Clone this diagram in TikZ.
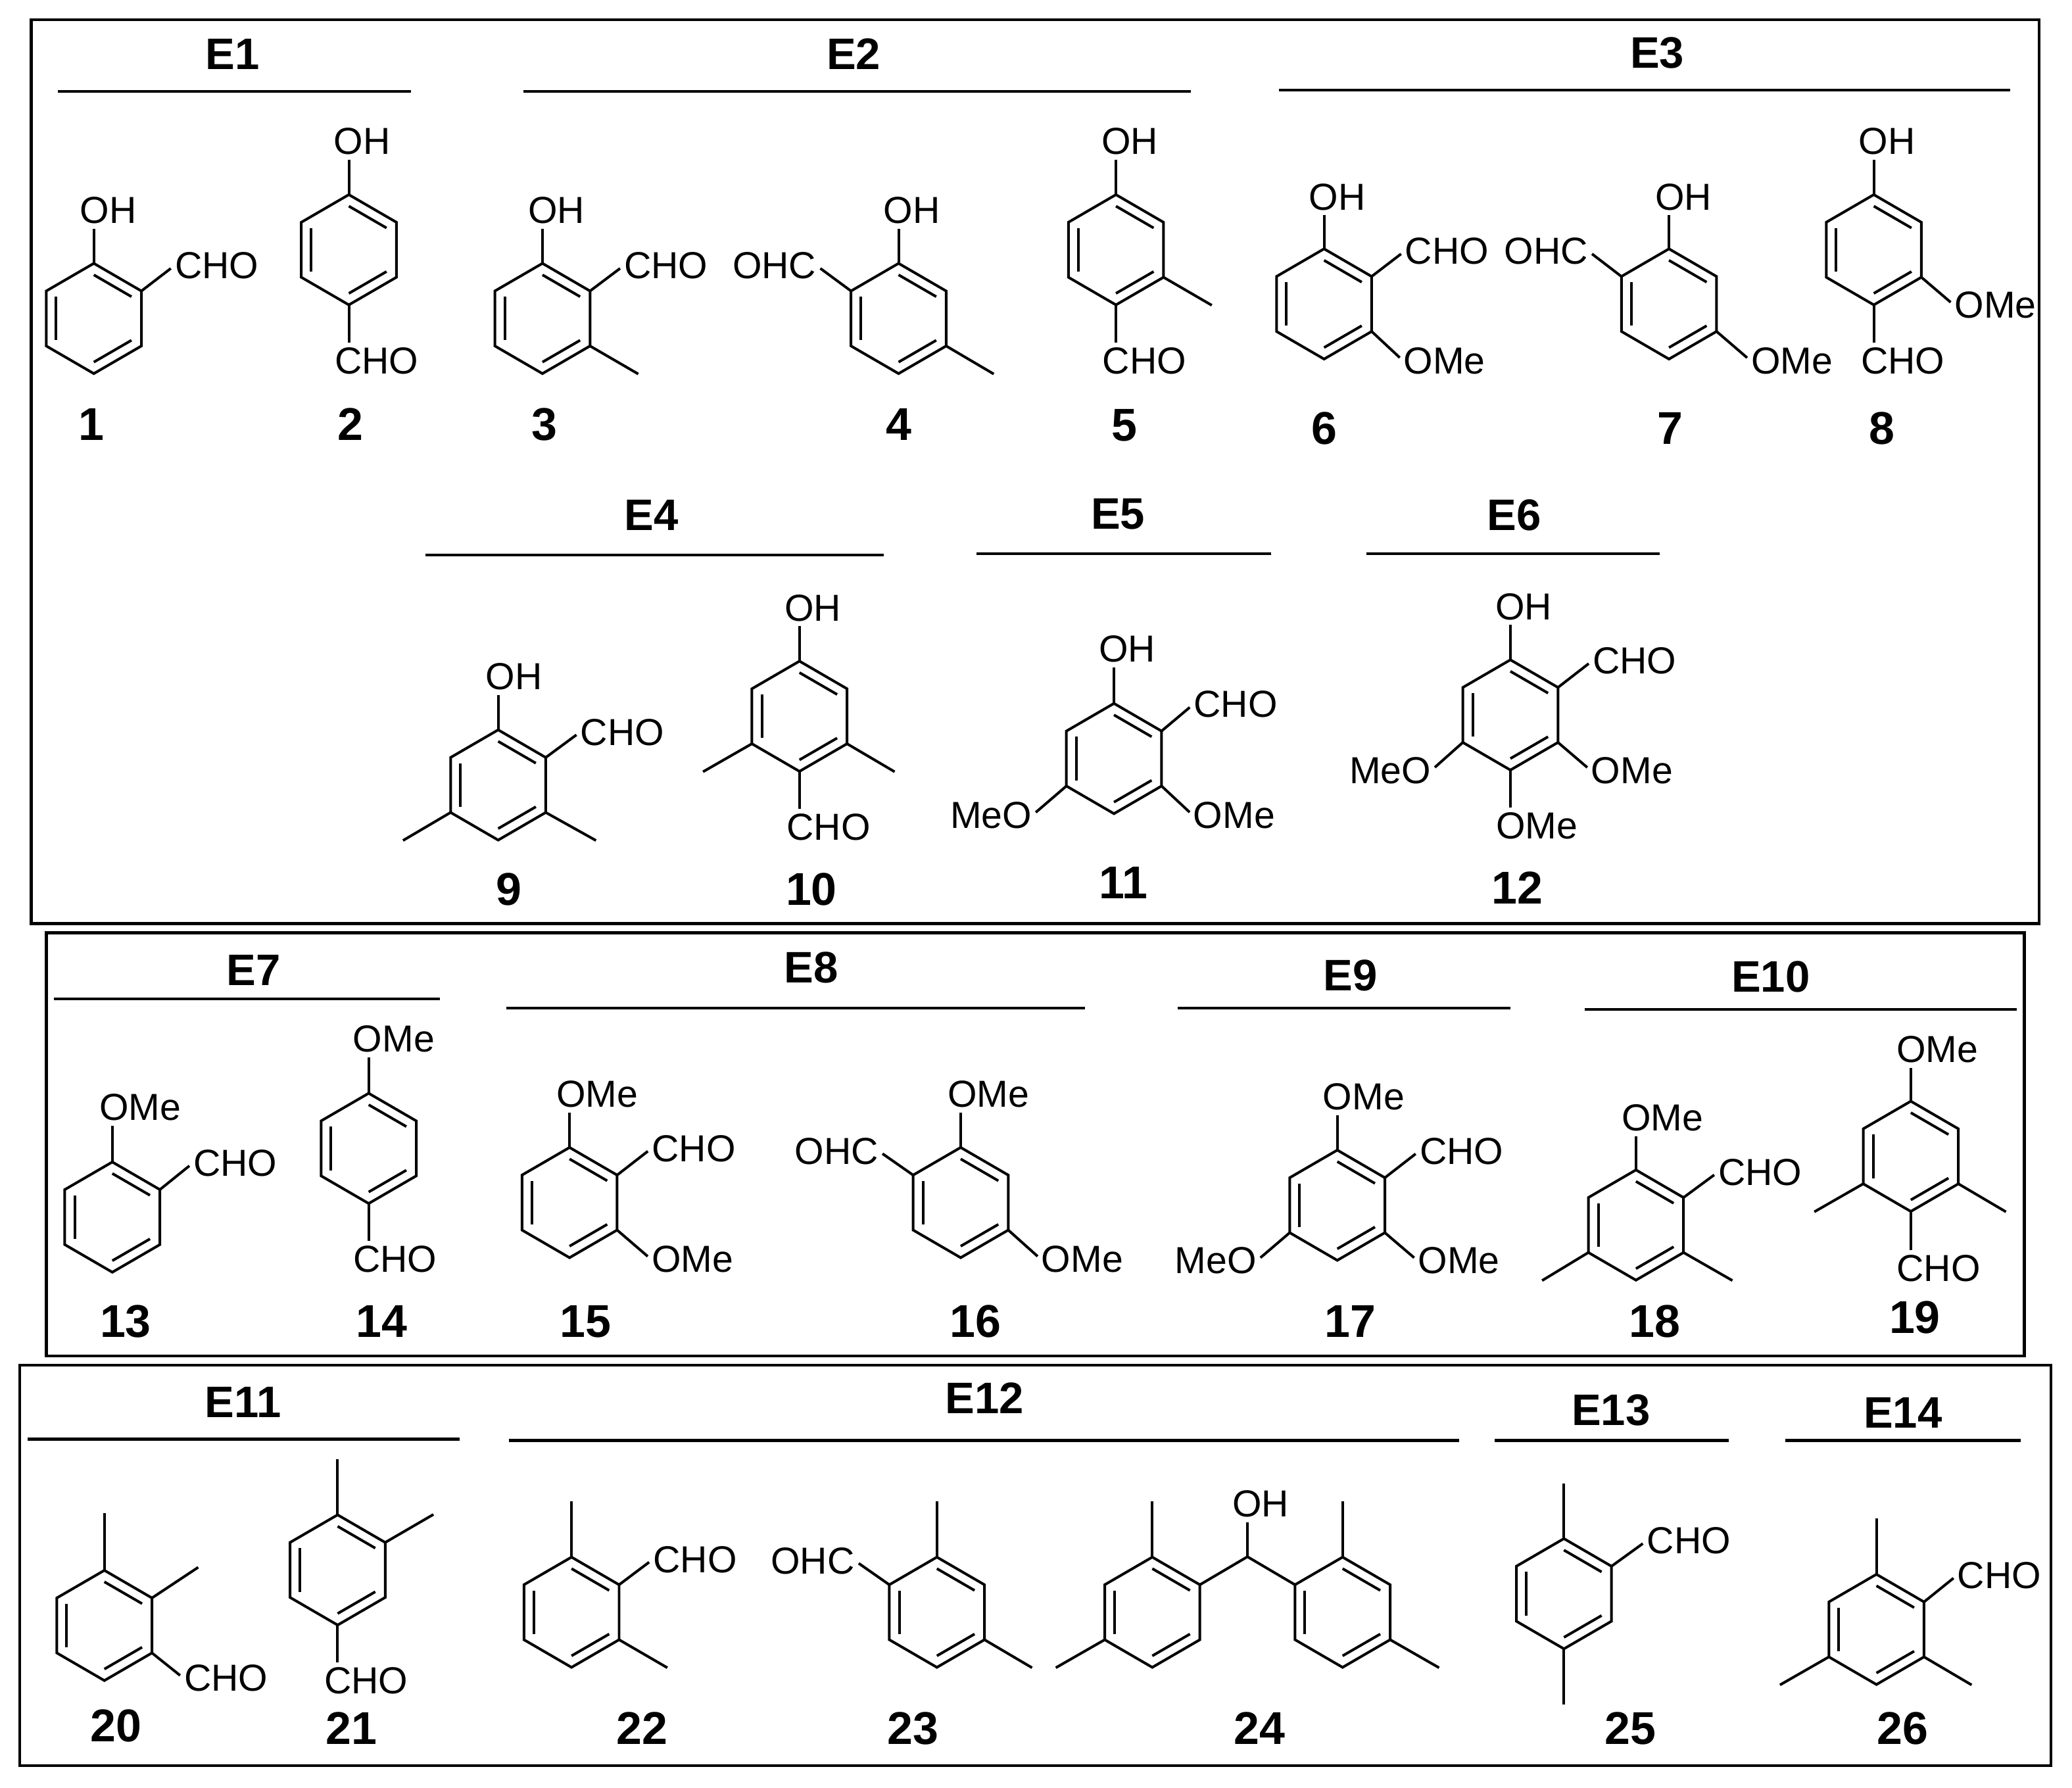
\documentclass[tikz,border=0pt]{standalone}
\usepackage{fontspec}
\setmainfont{Liberation Sans}
\tikzset{
  frame/.style={line width=1.3pt},
  rule/.style={line width=1.2pt},
  bond/.style={line width=1.13pt},
  tolbl/.style={bond,shorten >=0.07cm},
  head/.style={inner sep=0pt,font=\fontsize{19}{22}\selectfont\bfseries},
  num/.style={inner sep=0pt,font=\fontsize{19.8}{23}\selectfont\bfseries},
  lbl/.style={inner sep=0pt,font=\fontsize{16.2}{19}\selectfont},
}
% benzene ring: name, centre x, centre y
\newcommand{\ring}[3]{
  \begin{scope}[shift={(#2,#3)}]
  \coordinate(#1a) at (0,-41.7);
  \coordinate(#1b) at (36,-20.8);
  \coordinate(#1c) at (36,20.8);
  \coordinate(#1d) at (0,41.7);
  \coordinate(#1e) at (-36,20.8);
  \coordinate(#1f) at (-36,-20.8);
  \draw[bond] (#1a) -- (#1b) -- (#1c) -- (#1d) -- (#1e) -- (#1f) -- cycle;
  \draw[bond] (0,-33) -- (28.5,-16.5);
  \draw[bond] (28.5,16.5) -- (0,33);
  \draw[bond] (-28.5,16.5) -- (-28.5,-16.5);
  \end{scope}
}
\begin{document}
\begin{tikzpicture}[x=0.02cm,y=-0.02cm]
\useasboundingbox (0,0) rectangle (1568,1353);
% boxes
\draw[frame] (23.6,15) rectangle (1543,699);
\draw[frame] (35,706) rectangle (1532,1026);
\draw[frame] (15,1033) rectangle (1552,1336);
% groups
\node[head](e1) at (176,41) {E1};
\draw[rule] (44,69) -- (311,69);
\node[head](e2) at (646,41) {E2};
\draw[rule] (396,69) -- (901,69);
\node[head](e3) at (1254,40) {E3};
\draw[rule] (968,68) -- (1521,68);
\node[head](e4) at (493,390) {E4};
\draw[rule] (322,420) -- (669,420);
\node[head](e5) at (846,389) {E5};
\draw[rule] (739,419) -- (962,419);
\node[head](e6) at (1146,390) {E6};
\draw[rule] (1034,419) -- (1256,419);
\node[head](e7) at (192,734) {E7};
\draw[rule] (41,756) -- (333,756);
\node[head](e8) at (614,732) {E8};
\draw[rule] (383,763) -- (821,763);
\node[head](e9) at (1022,738) {E9};
\draw[rule] (891,763) -- (1143,763);
\node[head](e10) at (1340,739) {E10};
\draw[rule] (1199,764) -- (1526,764);
\node[head](e11) at (184,1061) {E11};
\draw[rule] (21,1089) -- (348,1089);
\node[head](e12) at (745,1058) {E12};
\draw[rule] (385,1090) -- (1104,1090);
\node[head](e13) at (1219,1067) {E13};
\draw[rule] (1131,1090) -- (1308,1090);
\node[head](e14) at (1440,1069) {E14};
\draw[rule] (1351,1090) -- (1529,1090);
%
\ring{r1}{71}{241}
\node[lbl](oh1) at (82,159) {OH};
\draw[tolbl] (r1a) -- (r1a |- oh1.south);
\node[lbl](cho1) at (164,201) {CHO};
\draw[tolbl] (r1b) -- (cho1.west);
\node[num](n1) at (69,321) {1};
%
\ring{r2}{264}{189}
\node[lbl](oh2) at (274,107) {OH};
\draw[tolbl] (r2a) -- (r2a |- oh2.south);
\node[lbl](cho2) at (285,273) {CHO};
\draw[tolbl] (r2d) -- (r2d |- cho2.north);
\node[num](n2) at (265,321) {2};
%
\ring{r3}{410.5}{241}
\node[lbl](oh3) at (421,159) {OH};
\draw[tolbl] (r3a) -- (r3a |- oh3.south);
\node[lbl](cho3) at (504,201) {CHO};
\draw[tolbl] (r3b) -- (cho3.west);
\coordinate(me3) at (483,283);
\draw[bond] (r3c) -- (me3);
\node[num](n3) at (412,321) {3};
%
\ring{r4}{680}{241}
\node[lbl](oh4) at (690,159) {OH};
\draw[tolbl] (r4a) -- (r4a |- oh4.south);
\node[lbl](ohc4) at (586,201) {OHC};
\draw[tolbl] (r4f) -- (ohc4.east);
\coordinate(me4) at (752,283);
\draw[bond] (r4c) -- (me4);
\node[num](n4) at (680,321) {4};
%
\ring{r5}{844.5}{189}
\node[lbl](oh5) at (855,107) {OH};
\draw[tolbl] (r5a) -- (r5a |- oh5.south);
\node[lbl](cho5) at (866,273) {CHO};
\draw[tolbl] (r5d) -- (r5d |- cho5.north);
\coordinate(me5) at (917,231);
\draw[bond] (r5c) -- (me5);
\node[num](n5) at (851,322) {5};
%
\ring{r6}{1002}{230}
\node[lbl](oh6) at (1012,149) {OH};
\draw[tolbl] (r6a) -- (r6a |- oh6.south);
\node[lbl](cho6) at (1095,190) {CHO};
\draw[tolbl] (r6b) -- (cho6.west);
\node[lbl](ome6) at (1093,273) {OMe};
\draw[tolbl] (r6c) -- (ome6.west);
\node[num](n6) at (1002,324) {6};
%
\ring{r7}{1263}{230}
\node[lbl](oh7) at (1274,149) {OH};
\draw[tolbl] (r7a) -- (r7a |- oh7.south);
\node[lbl](ohc7) at (1170,190) {OHC};
\draw[tolbl] (r7f) -- (ohc7.east);
\node[lbl](ome7) at (1356,273) {OMe};
\draw[tolbl] (r7c) -- (ome7.west);
\node[num](n7) at (1264,324) {7};
%
\ring{r8}{1418}{189}
\node[lbl](oh8) at (1428,107) {OH};
\draw[tolbl] (r8a) -- (r8a |- oh8.south);
\node[lbl](cho8) at (1440,273) {CHO};
\draw[tolbl] (r8d) -- (r8d |- cho8.north);
\node[lbl](ome8) at (1510,231) {OMe};
\draw[tolbl] (r8c) -- (ome8.west);
\node[num](n8) at (1424,324) {8};
%
\ring{r9}{377}{594}
\node[lbl](oh9) at (389,512) {OH};
\draw[tolbl] (r9a) -- (r9a |- oh9.south);
\node[lbl](cho9) at (471,554) {CHO};
\draw[tolbl] (r9b) -- (cho9.west);
\coordinate(mea9) at (451,636);
\coordinate(meb9) at (305,636);
\draw[bond] (r9c) -- (mea9);
\draw[bond] (r9e) -- (meb9);
\node[num](n9) at (385,673) {9};
%
\ring{r10}{605}{542}
\node[lbl](oh10) at (615,460) {OH};
\draw[tolbl] (r10a) -- (r10a |- oh10.south);
\node[lbl](cho10) at (627,626) {CHO};
\draw[tolbl] (r10d) -- (r10d |- cho10.north);
\coordinate(mea10) at (677,584);
\coordinate(meb10) at (532,584);
\draw[bond] (r10c) -- (mea10);
\draw[bond] (r10e) -- (meb10);
\node[num](n10) at (614,673) {10};
%
\ring{r11}{843}{574}
\node[lbl](oh11) at (853,491) {OH};
\draw[tolbl] (r11a) -- (r11a |- oh11.south);
\node[lbl](cho11) at (935,533) {CHO};
\draw[tolbl] (r11b) -- (cho11.west);
\node[lbl](ome11) at (934,617) {OMe};
\draw[tolbl] (r11c) -- (ome11.west);
\node[lbl](meo11) at (750,617) {MeO};
\draw[tolbl] (r11e) -- (meo11.east);
\node[num](n11) at (850,668) {11};
%
\ring{r12}{1143}{541}
\node[lbl](oh12) at (1153,459) {OH};
\draw[tolbl] (r12a) -- (r12a |- oh12.south);
\node[lbl](cho12) at (1237,500) {CHO};
\draw[tolbl] (r12b) -- (cho12.west);
\node[lbl](ome12) at (1235,583) {OMe};
\draw[tolbl] (r12c) -- (ome12.west);
\node[lbl](meo12) at (1052,583) {MeO};
\draw[tolbl] (r12e) -- (meo12.east);
\node[lbl](omeb12) at (1163,625) {OMe};
\draw[tolbl] (r12d) -- (r12d |- omeb12.north);
\node[num](n12) at (1148,672) {12};
%
\ring{r13}{85}{921}
\node[lbl](ome13) at (106,838) {OMe};
\draw[tolbl] (r13a) -- (r13a |- ome13.south);
\node[lbl](cho13) at (178,880) {CHO};
\draw[tolbl] (r13b) -- (cho13.west);
\node[num](n13) at (95,1000) {13};
%
\ring{r14}{279}{869}
\node[lbl](ome14) at (298,786) {OMe};
\draw[tolbl] (r14a) -- (r14a |- ome14.south);
\node[lbl](cho14) at (299,953) {CHO};
\draw[tolbl] (r14d) -- (r14d |- cho14.north);
\node[num](n14) at (289,1000) {14};
%
\ring{r15}{431}{910}
\node[lbl](ome15) at (452,828) {OMe};
\draw[tolbl] (r15a) -- (r15a |- ome15.south);
\node[lbl](cho15) at (525,869) {CHO};
\draw[tolbl] (r15b) -- (cho15.west);
\node[lbl](omeb15) at (524,953) {OMe};
\draw[tolbl] (r15c) -- (omeb15.west);
\node[num](n15) at (443,1000) {15};
%
\ring{r16}{727}{910}
\node[lbl](ome16) at (748,828) {OMe};
\draw[tolbl] (r16a) -- (r16a |- ome16.south);
\node[lbl](ohc16) at (633,871) {OHC};
\draw[tolbl] (r16f) -- (ohc16.east);
\node[lbl](omeb16) at (819,953) {OMe};
\draw[tolbl] (r16c) -- (omeb16.west);
\node[num](n16) at (738,1000) {16};
%
\ring{r17}{1012}{912}
\node[lbl](ome17) at (1032,830) {OMe};
\draw[tolbl] (r17a) -- (r17a |- ome17.south);
\node[lbl](cho17) at (1106,871) {CHO};
\draw[tolbl] (r17b) -- (cho17.west);
\node[lbl](omeb17) at (1104,954) {OMe};
\draw[tolbl] (r17c) -- (omeb17.west);
\node[lbl](meo17) at (920,954) {MeO};
\draw[tolbl] (r17e) -- (meo17.east);
\node[num](n17) at (1022,1000) {17};
%
\ring{r18}{1238}{927}
\node[lbl](ome18) at (1258,846) {OMe};
\draw[tolbl] (r18a) -- (r18a |- ome18.south);
\node[lbl](cho18) at (1332,887) {CHO};
\draw[tolbl] (r18b) -- (cho18.west);
\coordinate(mea18) at (1311,969);
\coordinate(meb18) at (1167,969);
\draw[bond] (r18c) -- (mea18);
\draw[bond] (r18e) -- (meb18);
\node[num](n18) at (1252,1000) {18};
%
\ring{r19}{1446}{875}
\node[lbl](ome19) at (1466,794) {OMe};
\draw[tolbl] (r19a) -- (r19a |- ome19.south);
\node[lbl](cho19) at (1467,960) {CHO};
\draw[tolbl] (r19d) -- (r19d |- cho19.north);
\coordinate(mea19) at (1518,917);
\coordinate(meb19) at (1373,917);
\draw[bond] (r19c) -- (mea19);
\draw[bond] (r19e) -- (meb19);
\node[num](n19) at (1449,997) {19};
%
\ring{r20}{79}{1230}
\coordinate(mea20) at (79,1145);
\coordinate(meb20) at (150,1186);
\draw[bond] (r20a) -- (mea20);
\draw[bond] (r20b) -- (meb20);
\node[lbl](cho20) at (171,1270) {CHO};
\draw[tolbl] (r20c) -- (cho20.west);
\node[num](n20) at (88,1306) {20};
%
\ring{r21}{255.5}{1188}
\coordinate(mea21) at (255.5,1104);
\coordinate(meb21) at (328,1146);
\draw[bond] (r21a) -- (mea21);
\draw[bond] (r21b) -- (meb21);
\node[lbl](cho21) at (277,1272) {CHO};
\draw[tolbl] (r21d) -- (r21d |- cho21.north);
\node[num](n21) at (266,1308) {21};
%
\ring{r22}{432.5}{1220}
\coordinate(mea22) at (432.5,1136);
\coordinate(meb22) at (505,1262);
\draw[bond] (r22a) -- (mea22);
\draw[bond] (r22c) -- (meb22);
\node[lbl](cho22) at (526,1180) {CHO};
\draw[tolbl] (r22b) -- (cho22.west);
\node[num](n22) at (486,1308) {22};
%
\ring{r23}{709}{1220}
\coordinate(mea23) at (709,1136);
\coordinate(meb23) at (781,1262);
\draw[bond] (r23a) -- (mea23);
\draw[bond] (r23c) -- (meb23);
\node[lbl](ohc23) at (615,1181) {OHC};
\draw[tolbl] (r23f) -- (ohc23.east);
\node[num](n23) at (691,1308) {23};
%
\ring{r24}{872}{1220}
\ring{s24}{1016}{1220}
\coordinate(c24) at (944,1178);
\draw[bond] (r24b) -- (c24) -- (s24f);
\node[lbl](oh24) at (954,1138) {OH};
\draw[tolbl] (c24) -- (c24 |- oh24.south);
\coordinate(mea24) at (872,1136);
\coordinate(meb24) at (799,1262);
\coordinate(mec24) at (1016,1136);
\coordinate(med24) at (1089,1262);
\draw[bond] (r24a) -- (mea24);
\draw[bond] (r24e) -- (meb24);
\draw[bond] (s24a) -- (mec24);
\draw[bond] (s24c) -- (med24);
\node[num](n24) at (953,1308) {24};
%
\ring{r25}{1183.5}{1206}
\coordinate(mea25) at (1183.5,1122.6);
\coordinate(meb25) at (1183.5,1290);
\draw[bond] (r25a) -- (mea25);
\draw[bond] (r25d) -- (meb25);
\node[lbl](cho25) at (1278,1166) {CHO};
\draw[tolbl] (r25b) -- (cho25.west);
\node[num](n25) at (1234,1308) {25};
%
\ring{r26}{1420}{1233}
\coordinate(mea26) at (1420,1149);
\coordinate(meb26) at (1492,1275);
\coordinate(mec26) at (1347,1275);
\draw[bond] (r26a) -- (mea26);
\draw[bond] (r26c) -- (meb26);
\draw[bond] (r26e) -- (mec26);
\node[lbl](cho26) at (1513,1192) {CHO};
\draw[tolbl] (r26b) -- (cho26.west);
\node[num](n26) at (1440,1308) {26};
\end{tikzpicture}
\end{document}
